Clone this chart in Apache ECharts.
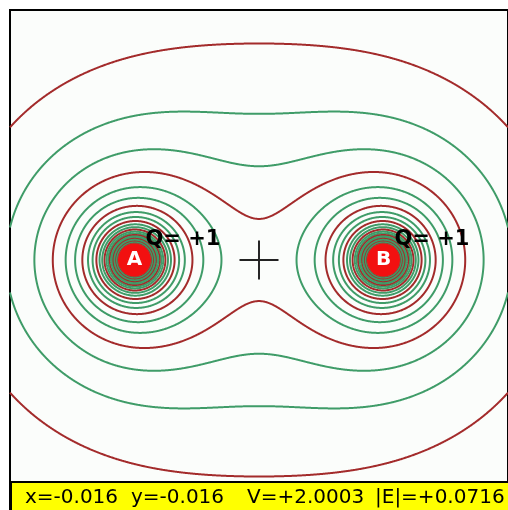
<!DOCTYPE html>
<html>
<head>
<meta charset="utf-8">
<title>Equipotential lines of two charges</title>
<script src="https://cdn.jsdelivr.net/npm/echarts@6/dist/echarts.min.js"></script>
<style>
    html, body { margin: 0; padding: 0; background: #ffffff; }
    #chart { width: 508px; height: 510px; }
</style>
</head>
<body>
<div id="chart"></div>
<script>
// charges (field units: charge A at x=-1, B at x=+1)
const chargeNames = ['A', 'B'];
const chargeX = [-1, 1];
const chargeY = [0, 0];
const chargeQ = [1, 1];
const chargeLabels = ['Q= +1', 'Q= +1'];

// potential levels drawn as contour lines, every third one red
const levels = [1.0, 1.3, 1.6, 1.9, 2.2, 2.5, 2.8, 3.1, 3.4, 3.7, 4.0, 4.3, 4.6,
    4.9, 5.2, 5.5, 5.8, 6.1, 6.4, 6.7, 7.0, 7.3, 7.6, 7.9, 8.2, 8.5];

// plot window
const xRange = [-2, 2];
const yRange = [-2, 2];
const centerMark = [0, 0];

// readout in the status bar
const readoutParts = ['x=-0.016', 'y=-0.016', 'V=+2.0003', '|E|=+0.0716'];
const readoutLeft = [25, 131, 247, 375];

const RED = '#a32b2b';
const GREEN = '#3f9c68';

// potential of the charges at a point
function potential(x, y) {
    let v = 0;
    for (let k = 0; k < chargeQ.length; k++) {
        const r = Math.max(Math.hypot(x - chargeX[k], y - chargeY[k]), 1e-9);
        v += chargeQ[k] / r;
    }
    return v;
}

// marching squares, segments chained into polylines
function buildContours(n) {
    const h = (xRange[1] - xRange[0]) / n;
    const hy = (yRange[1] - yRange[0]) / n;
    const m = n + 1;
    const grid = new Float64Array(m * m);
    for (let j = 0; j < m; j++) {
        for (let i = 0; i < m; i++) {
            grid[j * m + i] = potential(xRange[0] + i * h, yRange[0] + j * hy);
        }
    }
    const sets = levels.map(() => ({ pts: new Map(), adj: new Map() }));
    const hKey = (i, j) => (j * m + i) * 2;
    const vKey = (i, j) => (j * m + i) * 2 + 1;

    function link(set, a, b) {
        if (!set.adj.has(a)) set.adj.set(a, []);
        if (!set.adj.has(b)) set.adj.set(b, []);
        set.adj.get(a).push(b);
        set.adj.get(b).push(a);
    }

    for (let j = 0; j < n; j++) {
        const y0 = yRange[0] + j * hy, y1 = y0 + hy;
        for (let i = 0; i < n; i++) {
            const x0 = xRange[0] + i * h, x1 = x0 + h;
            const a = grid[j * m + i], b = grid[j * m + i + 1];
            const c = grid[(j + 1) * m + i + 1], d = grid[(j + 1) * m + i];
            const lo = Math.min(a, b, c, d), hi = Math.max(a, b, c, d);
            for (let k = 0; k < levels.length; k++) {
                const L = levels[k];
                if (L <= lo || L > hi) continue;
                const set = sets[k];
                const hits = [null, null, null, null];
                if ((a < L) !== (b < L)) {
                    const key = hKey(i, j);
                    if (!set.pts.has(key)) set.pts.set(key, [x0 + (L - a) / (b - a) * h, y0]);
                    hits[0] = key;
                }
                if ((b < L) !== (c < L)) {
                    const key = vKey(i + 1, j);
                    if (!set.pts.has(key)) set.pts.set(key, [x1, y0 + (L - b) / (c - b) * hy]);
                    hits[1] = key;
                }
                if ((d < L) !== (c < L)) {
                    const key = hKey(i, j + 1);
                    if (!set.pts.has(key)) set.pts.set(key, [x0 + (L - d) / (c - d) * h, y1]);
                    hits[2] = key;
                }
                if ((a < L) !== (d < L)) {
                    const key = vKey(i, j);
                    if (!set.pts.has(key)) set.pts.set(key, [x0, y0 + (L - a) / (d - a) * hy]);
                    hits[3] = key;
                }
                const found = hits.filter(e => e !== null);
                if (found.length === 2) {
                    link(set, found[0], found[1]);
                } else if (found.length === 4) {
                    const mid = (a + b + c + d) / 4;
                    if ((a >= L) === (mid >= L)) {
                        link(set, hits[0], hits[1]);
                        link(set, hits[2], hits[3]);
                    } else {
                        link(set, hits[0], hits[3]);
                        link(set, hits[1], hits[2]);
                    }
                }
            }
        }
    }

    return sets.map(set => {
        const used = new Set();
        const lines = [];
        const walk = start => {
            const path = [set.pts.get(start)];
            used.add(start);
            let prev = -1, cur = start;
            while (true) {
                const nb = set.adj.get(cur);
                let next = -1;
                for (const q of nb) {
                    if (q !== prev && !used.has(q)) { next = q; break; }
                }
                if (next === -1) {
                    if (path.length > 2 && nb.includes(start)) path.push(set.pts.get(start));
                    break;
                }
                used.add(next);
                path.push(set.pts.get(next));
                prev = cur;
                cur = next;
            }
            return path;
        };
        // open curves first (they end on the window edge), then closed loops
        set.adj.forEach((nb, key) => {
            if (nb.length === 1 && !used.has(key)) lines.push(walk(key));
        });
        set.adj.forEach((nb, key) => {
            if (!used.has(key)) lines.push(walk(key));
        });
        return lines;
    });
}

const contours = buildContours(800);

const chart = echarts.init(document.getElementById('chart'), null, { renderer: 'canvas' });

const contourSeries = levels.map((lv, k) => ({
    name: 'V=' + lv.toFixed(1),
    type: 'lines',
    coordinateSystem: 'cartesian2d',
    polyline: true,
    silent: true,
    z: 2,
    lineStyle: {
        color: k % 3 === 0 ? RED : GREEN,
        width: 2,
        opacity: 1,
        curveness: 0
    },
    data: contours[k].map(path => ({ coords: path }))
}));

const option = {
    animation: false,
    backgroundColor: '#ffffff',
    grid: {
        show: true,
        left: 10,
        top: 10,
        width: 500,
        height: 500,
        backgroundColor: '#fbfdfb',
        borderColor: '#000000',
        borderWidth: 2
    },
    xAxis: { type: 'value', min: xRange[0], max: xRange[1], show: false },
    yAxis: { type: 'value', min: yRange[0], max: yRange[1], show: false },
    series: contourSeries.concat([
        {
            name: 'center',
            type: 'scatter',
            silent: true,
            z: 3,
            symbol: 'path://M-20,-1L20,-1L20,1L-20,1Z M-1,-20L1,-20L1,20L-1,20Z',
            symbolSize: 39,
            itemStyle: { color: '#222222', opacity: 1 },
            data: [centerMark]
        },
        {
            name: 'charges',
            type: 'scatter',
            silent: true,
            z: 4,
            symbol: 'circle',
            symbolSize: 33,
            itemStyle: { color: '#f21010', opacity: 1 },
            label: {
                show: true,
                position: 'inside',
                formatter: p => chargeNames[p.dataIndex],
                color: '#ffffff',
                fontFamily: 'DejaVu Sans',
                fontWeight: 'bold',
                fontSize: 20
            },
            data: chargeX.map((x, k) => [x, chargeY[k]])
        },
        {
            name: 'charge labels',
            type: 'scatter',
            silent: true,
            z: 5,
            symbolSize: 1,
            itemStyle: { color: 'rgba(0,0,0,0)', opacity: 1 },
            label: {
                show: true,
                position: 'inside',
                align: 'left',
                verticalAlign: 'middle',
                offset: [11, -20],
                formatter: p => chargeLabels[p.dataIndex],
                color: '#000000',
                opacity: 1,
                fontFamily: 'DejaVu Sans',
                fontWeight: 'bold',
                fontSize: 21
            },
            data: chargeX.map((x, k) => [x, chargeY[k]])
        }
    ]),
    graphic: [
        {
            type: 'rect',
            z: 100,
            shape: { x: 10, y: 482, width: 498, height: 28 },
            style: { fill: '#ffff00' }
        },
        {
            type: 'line',
            z: 101,
            shape: { x1: 10, y1: 482, x2: 508, y2: 482 },
            style: { stroke: '#000000', lineWidth: 2 }
        },
        {
            type: 'line',
            z: 101,
            shape: { x1: 11, y1: 481, x2: 11, y2: 510 },
            style: { stroke: '#000000', lineWidth: 2 }
        }
    ].concat(readoutParts.map((t, k) => ({
        type: 'text',
        z: 102,
        x: readoutLeft[k],
        y: 498,
        style: {
            text: t,
            fill: '#000000',
            font: '20px "DejaVu Sans"',
            verticalAlign: 'middle'
        }
    })))
};

chart.setOption(option);
window.addEventListener('resize', () => chart.resize());
</script>
</body>
</html>
